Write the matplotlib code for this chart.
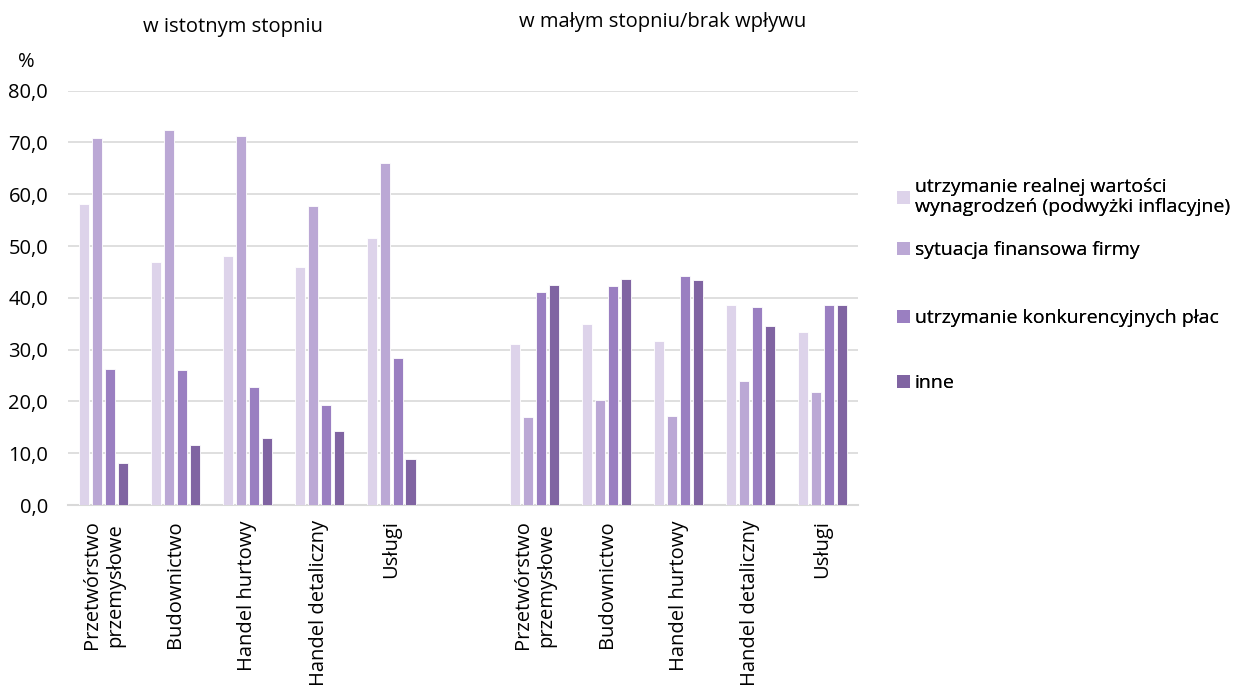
import numpy as np
import matplotlib.pyplot as plt
from matplotlib.patches import Patch

plt.rcParams['font.family'] = ['Open Sans', 'DejaVu Sans']

# sektory (dwie grupy, puste miejsce pomiędzy)
sectors = ['Przetwórstwo\nprzemysłowe', 'Budownictwo', 'Handel hurtowy',
           'Handel detaliczny', 'Usługi']
series = ['utrzymanie realnej wartości\nwynagrodzeń (podwyżki inflacyjne)',
          'sytuacja finansowa firmy',
          'utrzymanie konkurencyjnych płac',
          'inne']
colors = ['#DDD3EA', '#BBA8D5', '#9A7FC1', '#8064A2']

# w istotnym stopniu
istotny = [
    [58.2, 47.0, 48.0, 45.9, 51.5],
    [70.9, 72.5, 71.3, 57.8, 66.0],
    [26.2, 26.1, 22.7, 19.4, 28.4],
    [8.1, 11.6, 13.0, 14.3, 8.9],
]
# w małym stopniu/brak wpływu
maly = [
    [31.0, 34.9, 31.7, 38.7, 33.4],
    [16.9, 20.3, 17.1, 23.9, 21.8],
    [41.2, 42.3, 44.3, 38.3, 38.7],
    [42.5, 43.7, 43.4, 34.5, 38.7],
]

fig = plt.figure(figsize=(12.53, 6.94), dpi=100)
ax = fig.add_axes([0.054, 0.2723, 0.631, 0.597])

pos_left = np.arange(5)
pos_right = np.arange(6, 11)
pitch = 0.18
width = 0.14
for i in range(4):
    off = (i - 1.5) * pitch
    ax.bar(pos_left + off, istotny[i], width, color=colors[i],
           edgecolor='white', linewidth=0.6, zorder=3)
    ax.bar(pos_right + off, maly[i], width, color=colors[i],
           edgecolor='white', linewidth=0.6, zorder=3)

ax.set_xlim(-0.5, 10.5)
ax.set_ylim(0, 80)
ax.set_yticks(np.arange(0, 81, 10))
ax.set_yticklabels([f'{v:.1f}'.replace('.', ',') for v in np.arange(0, 81, 10)],
                   fontsize=14.5)
ax.set_xticks(list(pos_left) + list(pos_right))
ax.set_xticklabels(sectors + sectors, rotation=90, fontsize=14.5,
                   va='top', ha='center', linespacing=1.2)
ax.tick_params(axis='both', length=0, colors='#000000')
ax.tick_params(axis='x', pad=11)
ax.tick_params(axis='y', pad=14)
for s in ['top', 'right', 'left']:
    ax.spines[s].set_visible(False)
ax.spines['bottom'].set_color('#D9D9D9')
ax.spines['bottom'].set_linewidth(1.5)
ax.grid(axis='y', color='#D9D9D9', linewidth=1.2, zorder=0)
ax.set_axisbelow(True)

fig.text(0.021, 0.911, '%', fontsize=14.5, ha='center', va='center')
fig.text(0.186, 0.961, 'w istotnym stopniu', fontsize=14.5, ha='center', va='center')
fig.text(0.529, 0.968, 'w małym stopniu/brak wpływu', fontsize=14.5,
         ha='center', va='center')

# legenda - każdy wpis osobno, żeby odstępy były jak w oryginale
leg_y = [1 - 197 / 694, 1 - 250 / 694, 1 - 318 / 694, 1 - 383 / 694]
for c, lab, y in zip(colors, series, leg_y):
    leg = fig.legend([Patch(facecolor=c, edgecolor='none')], [lab],
                     loc='center left', bbox_to_anchor=(0.716, y),
                     frameon=False, fontsize=14, handlelength=0.65,
                     handleheight=0.65, handletextpad=0.25, borderpad=0,
                     borderaxespad=0, labelspacing=0)
    fig.add_artist(leg)

fig.savefig('out.png', dpi=100)
